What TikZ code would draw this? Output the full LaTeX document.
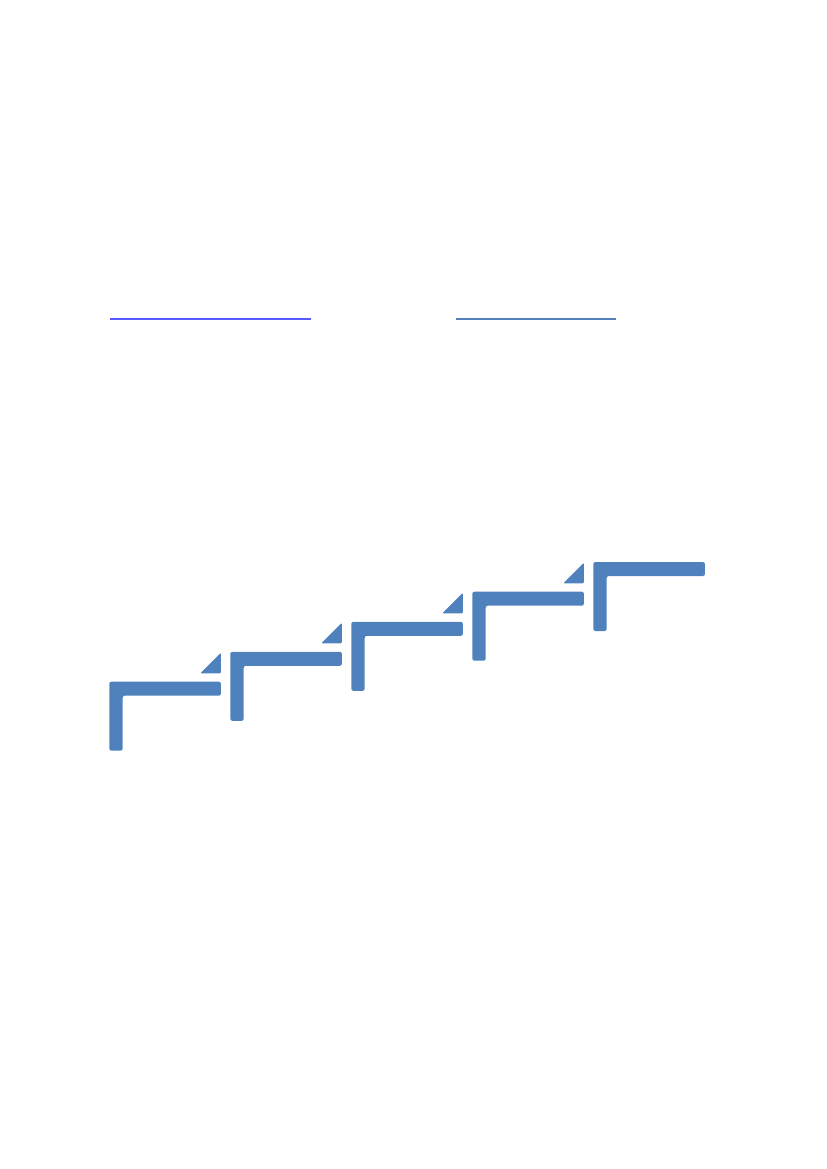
\documentclass[tikz,border=0pt]{standalone}
\usetikzlibrary{calc}
\definecolor{stepblue}{RGB}{79,129,189}
\definecolor{linkblue}{RGB}{88,88,255}
\definecolor{linksteel}{RGB}{84,128,186}

\begin{document}
\begin{tikzpicture}[x=0.7198pt, y=-0.7198pt,
        step_style/.style={fill=stepblue, draw=none, rounded corners=1.5pt},
        tip_style/.style={fill=stepblue, draw=none, rounded corners=0.8pt},
        link_style/.style={line width=1.4pt}]
        \useasboundingbox (0,0) rectangle (827,1169);

        \coordinate (l1a) at (110,319);
        \coordinate (l1b) at (311,319);
        \coordinate (l2a) at (456,319);
        \coordinate (l2b) at (616,319);
        \draw [link_style, draw=linkblue] (l1a) -- (l1b);
        \draw [link_style, draw=linksteel] (l2a) -- (l2b);

        \coordinate (s1) at (109.3,681.7);
        \coordinate (s2) at (230.3,651.8);
        \coordinate (s3) at (351.3,621.8);
        \coordinate (s4) at (472.3,591.7);
        \coordinate (s5) at (593.3,562);

        \fill [step_style] (s1) -- ++(111.6,0) -- ++(0,14) -- ++(-98.2,0) -- ++(0,55) -- ++(-13.4,0) -- cycle;
        \fill [step_style] (s2) -- ++(111.6,0) -- ++(0,14) -- ++(-98.2,0) -- ++(0,55) -- ++(-13.4,0) -- cycle;
        \fill [step_style] (s3) -- ++(111.6,0) -- ++(0,14) -- ++(-98.2,0) -- ++(0,55) -- ++(-13.4,0) -- cycle;
        \fill [step_style] (s4) -- ++(111.6,0) -- ++(0,14) -- ++(-98.2,0) -- ++(0,55) -- ++(-13.4,0) -- cycle;
        \fill [step_style] (s5) -- ++(111.6,0) -- ++(0,14) -- ++(-98.2,0) -- ++(0,55) -- ++(-13.4,0) -- cycle;

        \fill [tip_style] ($(s1)+(91,-8.4)$) -- ($(s1)+(111.6,-8.4)$) -- ($(s1)+(111.6,-29)$) -- cycle;
        \fill [tip_style] ($(s2)+(91,-8.4)$) -- ($(s2)+(111.6,-8.4)$) -- ($(s2)+(111.6,-29)$) -- cycle;
        \fill [tip_style] ($(s3)+(91,-8.4)$) -- ($(s3)+(111.6,-8.4)$) -- ($(s3)+(111.6,-29)$) -- cycle;
        \fill [tip_style] ($(s4)+(91,-8.4)$) -- ($(s4)+(111.6,-8.4)$) -- ($(s4)+(111.6,-29)$) -- cycle;
\end{tikzpicture}
\end{document}
